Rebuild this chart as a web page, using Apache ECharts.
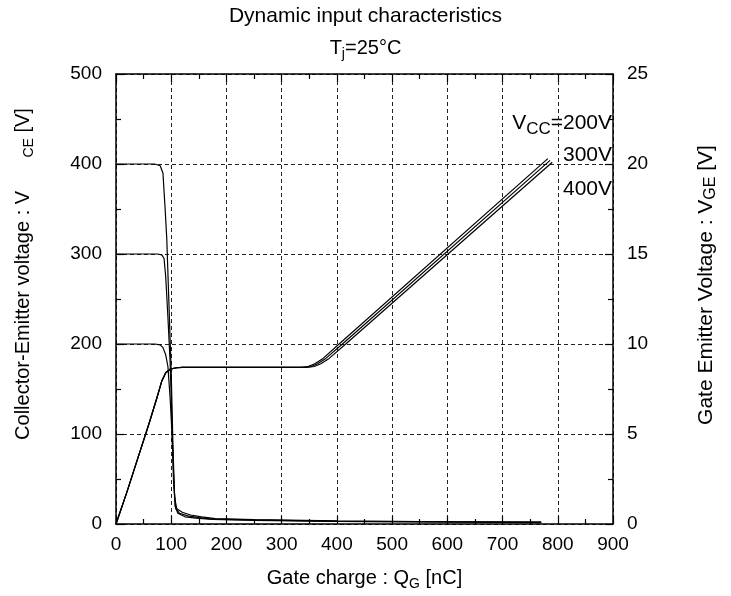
<!DOCTYPE html>
<html>
<head>
<meta charset="utf-8">
<script src="https://cdn.jsdelivr.net/npm/echarts@6/dist/echarts.min.js"></script>
<style>
  html, body { margin: 0; padding: 0; background: #fff; }
  #chart { width: 731px; height: 596px; }
</style>
</head>
<body>
<div id="chart"></div>
<script>
// VCE curves (left axis, V) vs gate charge (nC)
const qVce400 = [0, 70, 80, 85, 89, 92, 96, 100, 103, 106, 110, 120, 135, 155, 180, 250, 400, 600, 770]
const vce400 = [400, 400, 398, 390, 350, 316, 242, 168, 90, 30, 17, 13, 10, 8, 6, 5, 3.5, 2.5, 2]
const qVce300 = [0, 75, 83, 87, 90, 94, 98, 101, 104, 108, 115, 130, 150, 175, 250, 400, 600, 770]
const vce300 = [300, 300, 299, 295, 275, 230, 180, 120, 50, 17, 12, 9, 7, 5.5, 4.5, 3, 2.5, 2]
const qVce200 = [0, 70, 80, 85, 90, 94, 98, 101, 104, 107, 112, 125, 145, 175, 250, 400, 600, 770]
const vce200 = [200, 200, 199, 196, 188, 175, 140, 105, 60, 20, 12, 8, 6.5, 5, 4, 3, 2, 1.5]

// VGE curves (right axis, V)
const qVge200 = [0, 20, 40, 60, 75, 83, 90, 98, 110, 120, 335, 348, 360, 375, 404, 782]
const vge200 = [0, 1.8, 3.7, 5.6, 7.1, 7.95, 8.4, 8.6, 8.68, 8.7, 8.7, 8.75, 8.9, 9.2, 10, 20.3]
const qVge300 = [0, 20, 40, 60, 75, 83, 90, 98, 110, 120, 340, 353, 365, 380, 410, 786]
const vge300 = [0, 1.8, 3.7, 5.6, 7.1, 7.95, 8.4, 8.6, 8.68, 8.7, 8.7, 8.75, 8.9, 9.2, 10, 20.2]
const qVge400 = [0, 20, 40, 60, 75, 83, 90, 98, 110, 120, 346, 359, 371, 386, 416, 790]
const vge400 = [0, 1.8, 3.7, 5.6, 7.1, 7.95, 8.4, 8.6, 8.68, 8.7, 8.7, 8.75, 8.9, 9.2, 10, 20.1]

const pair = (xs, ys) => xs.map((x, i) => [x, ys[i]])

const font = "'Liberation Sans', Arial, sans-serif"
const subStyle = { fontSize: 14, fontFamily: font, color: '#000', padding: [12, 0, 0, 0] }

const chart = echarts.init(document.getElementById('chart'))

const line = (name, data, yIdx) => ({
  name,
  type: 'line',
  yAxisIndex: yIdx,
  data,
  showSymbol: false,
  silent: true,
  lineStyle: { color: '#000', width: 1.2 }
})

const tickCommon = {
  axisLine: { show: true, onZero: false, lineStyle: { color: '#000', width: 1.5 } },
  axisTick: { show: true, inside: true, length: 8, lineStyle: { color: '#000', width: 1.2 } },
  minorTick: { show: true, splitNumber: 2, length: 5, lineStyle: { color: '#000', width: 1.2 } }
}

const option = {
  animation: false,
  backgroundColor: '#fff',
  textStyle: { fontFamily: font },
  title: [
    {
      text: 'Dynamic input characteristics',
      left: 'center',
      top: 1,
      textStyle: { fontSize: 21, fontWeight: 'normal', color: '#000', fontFamily: font }
    },
    {
      text: 'T{s|j}=25°C',
      left: 'center',
      top: 30,
      textStyle: {
        fontSize: 20, fontWeight: 'normal', color: '#000', fontFamily: font,
        rich: { s: subStyle }
      }
    }
  ],
  grid: { left: 116, right: 118, top: 74, bottom: 71 },
  xAxis: [
    {
      type: 'value',
      min: 0, max: 900, interval: 100,
      position: 'bottom',
      name: 'Gate charge : Q{s|G} [nC]',
      nameLocation: 'middle',
      nameGap: 41,
      nameTextStyle: { fontSize: 20, color: '#000', fontFamily: font, rich: { s: subStyle } },
      ...tickCommon,
      axisLabel: { color: '#000', fontSize: 19, fontFamily: font, margin: 11 },
      splitLine: { show: true, lineStyle: { color: '#222', width: 1, type: [4, 3] } }
    },
    {
      type: 'value',
      min: 0, max: 900, interval: 100,
      position: 'top',
      ...tickCommon,
      axisLabel: { show: false },
      splitLine: { show: false }
    }
  ],
  yAxis: [
    {
      type: 'value',
      min: 0, max: 500, interval: 100,
      position: 'left',
      name: 'Collector-Emitter voltage : V      {s|CE} [V]',
      nameLocation: 'middle',
      nameRotate: 90,
      nameGap: 80,
      nameTextStyle: {
        fontSize: 20, color: '#000', fontFamily: font, rich: { s: subStyle },
        padding: [0, 0, 0, 50]
      },
      ...tickCommon,
      axisLabel: { color: '#000', fontSize: 19, fontFamily: font, margin: 14 },
      splitLine: { show: true, lineStyle: { color: '#222', width: 1, type: [4, 3] } }
    },
    {
      type: 'value',
      min: 0, max: 25, interval: 5,
      position: 'right',
      name: 'Gate Emitter Voltage : V{s|GE} [V]',
      nameLocation: 'middle',
      nameRotate: 90,
      nameGap: 80,
      nameTextStyle: {
        fontSize: 21, color: '#000', fontFamily: font,
        rich: { s: { ...subStyle, fontSize: 16, padding: [10, 0, 0, 0] } },
        padding: [0, 0, 0, 28]
      },
      ...tickCommon,
      axisLabel: { color: '#000', fontSize: 19, fontFamily: font, margin: 14 },
      splitLine: { show: false }
    }
  ],
  series: [
    line('VCE 400V', pair(qVce400, vce400), 0),
    line('VCE 300V', pair(qVce300, vce300), 0),
    line('VCE 200V', pair(qVce200, vce200), 0),
    line('VGE 200V', pair(qVge200, vge200), 1),
    line('VGE 300V', pair(qVge300, vge300), 1),
    line('VGE 400V', pair(qVge400, vge400), 1)
  ],
  graphic: [
    {
      type: 'text', x: 612, y: 123,
      style: {
        text: 'V{s|CC}=200V',
        font: '21px ' + font, fill: '#000', align: 'right', verticalAlign: 'middle',
        rich: { s: { fontSize: 17, fontFamily: font, fill: '#000', padding: [12, 0, 0, 0] } }
      }
    },
    { type: 'text', x: 612, y: 155, style: { text: '300V', font: '21px ' + font, fill: '#000', align: 'right', verticalAlign: 'middle' } },
    { type: 'text', x: 612, y: 189, style: { text: '400V', font: '21px ' + font, fill: '#000', align: 'right', verticalAlign: 'middle' } }
  ]
}

chart.setOption(option)
</script>
</body>
</html>
